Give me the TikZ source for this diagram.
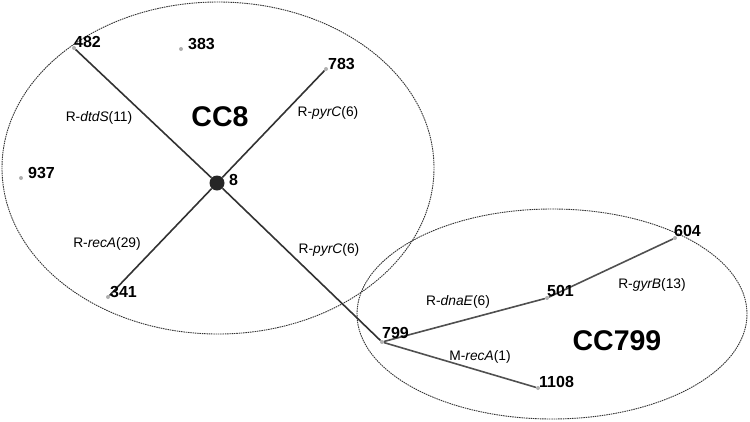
\documentclass[tikz,border=0pt]{standalone}
\usepackage{fontspec}
\setmainfont{Liberation Sans}
\definecolor{EdgeGray}{RGB}{50,50,50}
\definecolor{EdgeGrayB}{RGB}{80,80,80}
\definecolor{DotGray}{RGB}{175,175,175}
\definecolor{LineGray}{RGB}{50,50,50}

\begin{document}
\begin{tikzpicture}[x=1pt, y=-1pt,
	st/.style={circle, fill=DotGray, inner sep=0pt, minimum size=4pt},
	founder/.style={circle, fill=black!85, inner sep=0pt, minimum size=15pt},
	stlbl/.style={anchor=west, inner sep=0pt, font=\fontsize{16}{18}\selectfont\bfseries},
	slv/.style={inner sep=0pt, font=\fontsize{13.8}{15}\selectfont},
	edge/.style={draw=EdgeGray, line width=1.6pt},
	cluster/.style={draw=LineGray, dash pattern=on 1.5pt off 0.8pt, line width=0.9pt},
	cclbl/.style={inner sep=0pt, font=\fontsize{28.5}{30}\selectfont\bfseries}]
	\useasboundingbox (0,0) rectangle (750,421);

	% clonal complexes
	\draw[cluster] (218,168) ellipse [x radius=216pt, y radius=166pt];
	\draw[cluster] (552,314) ellipse [x radius=195pt, y radius=105pt];

	% sequence types
	\node[founder] (st8) at (217,183) {};
	\node[st] (st482) at (74,48) {};
	\node[st] (st383) at (181,49) {};
	\node[st] (st783) at (326,69) {};
	\node[st] (st937) at (21,178) {};
	\node[st] (st341) at (108,297) {};
	\node[st] (st799) at (382,342) {};
	\node[st] (st501) at (547,298) {};
	\node[st] (st604) at (675,238) {};
	\node[st] (st1108) at (538,388) {};

	% SLV links
	\draw[edge] (st8) -- (st482);
	\draw[edge] (st8) -- (st783);
	\draw[edge] (st8) -- (st341);
	\draw[edge] (st8) -- (st799);
	\draw[edge, draw=EdgeGrayB] (st799) -- (st501);
	\draw[edge, draw=EdgeGrayB] (st501) -- (st604);
	\draw[edge, draw=EdgeGrayB] (st799) -- (st1108);

	% ST numbers
	\node[stlbl] (n8) at (229,180) {8};
	\node[stlbl] (n482) at (74,42) {482};
	\node[stlbl] (n383) at (188,44) {383};
	\node[stlbl] (n783) at (328,64) {783};
	\node[stlbl] (n937) at (28,173) {937};
	\node[stlbl] (n341) at (110,292) {341};
	\node[stlbl] (n799) at (382,333) {799};
	\node[stlbl] (n501) at (547,291) {501};
	\node[stlbl] (n604) at (674,231) {604};
	\node[stlbl] (n1108) at (539,382) {1108};

	% link labels
	\node[slv] (l482) at (99,118) {R-\textit{dtdS}(11)};
	\node[slv] (l783) at (328,113) {R-\textit{pyrC}(6)};
	\node[slv] (l341) at (107,244) {R-\textit{recA}(29)};
	\node[slv] (l799) at (329,250) {R-\textit{pyrC}(6)};
	\node[slv] (l501) at (458,302) {R-\textit{dnaE}(6)};
	\node[slv] (l604) at (652,285) {R-\textit{gyrB}(13)};
	\node[slv] (l1108) at (480,357) {M-\textit{recA}(1)};

	% complex names
	\node[cclbl] (cc8) at (220,117) {CC8};
	\node[cclbl] (cc799) at (617,341) {CC799};
\end{tikzpicture}
\end{document}
